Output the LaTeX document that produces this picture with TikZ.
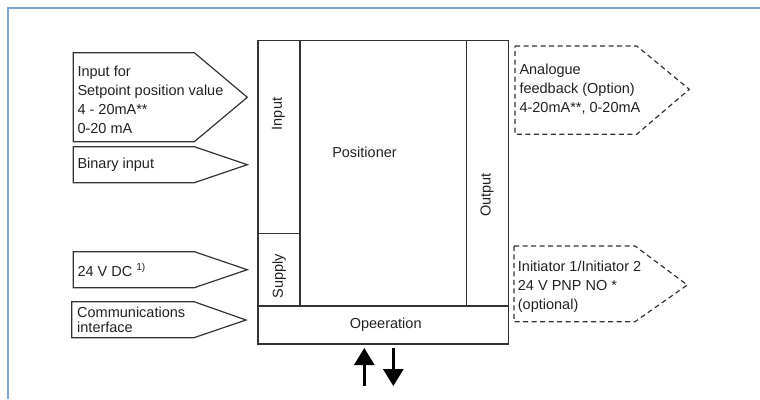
\documentclass[tikz,border=0pt]{standalone}
\usepackage{fontspec}
\setmainfont{Liberation Sans}
\usetikzlibrary{arrows.meta}
\definecolor{linec}{HTML}{333333}
\definecolor{textc}{HTML}{222222}
\definecolor{framec}{HTML}{7DA2D6}
\begin{document}
\begin{tikzpicture}[x=1pt,y=-1pt,
  frame/.style={draw=framec, line width=1.5pt},
  cell/.style={draw=linec, line width=1.2pt, inner sep=0pt},
  sig/.style={draw=linec, line width=1.2pt, line join=miter},
  opt/.style={sig, dash pattern=on 5pt off 3.5pt},
  lbl/.style={font=\fontsize{14.5}{19}\selectfont, align=left, anchor=west, inner sep=0pt, text=textc},
  clbl/.style={font=\fontsize{14.5}{19}\selectfont, inner sep=0pt, text=textc},
  bigarrow/.style={draw=black, line width=3pt, -{Triangle[width=20pt,length=17pt]}}]
\useasboundingbox (0,0) rectangle (760,399);
% blue frame
\draw[frame] (8,399) -- (8,8) -- (760,8);
% main block
\path[cell] (258,40.7) rectangle (508.3,344);
\path[cell] (258,40.7) rectangle (300,233.3);
\path[cell] (258,233.3) rectangle (300,306);
\path[cell] (466.7,40.7) rectangle (508.3,306);
\path[cell] (258,306) rectangle (508.3,344);
\node[clbl, rotate=90] (input) at (278.5,114) {Input};
\node[clbl, rotate=90] (supply) at (279,276) {Supply};
\node[clbl, rotate=90] (output) at (487,195) {Output};
\node[clbl] (positioner) at (364.5,152) {Positioner};
\node[clbl] (operation) at (385.7,325) {Opeeration};
% input signals
\draw[sig] (73.3,52.7) -- (194.3,52.7) -- (247.3,97.3) -- (194.3,141.7) -- (73.3,141.7) -- cycle;
\node[lbl] (setpoint) at (77.3,99.5) {Input for\\Setpoint position value\\4 - 20mA**\\0-20 mA};
\draw[sig] (73.3,146.7) -- (194.3,146.7) -- (247.3,164.7) -- (194.3,182.7) -- (73.3,182.7) -- cycle;
\node[lbl] (binary) at (77.3,164.7) {Binary input};
\draw[sig] (73.3,251.7) -- (194.3,251.7) -- (247.3,269.7) -- (194.3,287.7) -- (73.3,287.7) -- cycle;
\node[lbl] (dc) at (77.3,270) {24 V DC \textsuperscript{1)}};
\draw[sig] (71.7,301.7) -- (194,301.7) -- (246,320) -- (194,337.7) -- (71.7,337.7) -- cycle;
\node[lbl, font=\fontsize{14.5}{15.5}\selectfont] (comm) at (77,320) {Communications\\interface};
% optional outputs
\draw[opt] (515,46) -- (636.7,46) -- (689.3,89.3) -- (636.7,134.3) -- (515,134.3) -- cycle;
\node[lbl] (analogue) at (519.3,89.5) {Analogue\\feedback (Option)\\4-20mA**, 0-20mA};
\draw[opt] (514,246) -- (635,246) -- (687.3,285) -- (635,321.7) -- (514,321.7) -- cycle;
\node[lbl] (initiator) at (517.7,286.3) {Initiator 1/Initiator 2\\24 V PNP NO *\\(optional)};
% operation arrows
\coordinate (upA) at (364.3,386);
\coordinate (upB) at (364.3,348);
\coordinate (dnA) at (393.3,348);
\coordinate (dnB) at (393.3,386);
\draw[bigarrow] (upA) -- (upB);
\draw[bigarrow] (dnA) -- (dnB);
\end{tikzpicture}
\end{document}
